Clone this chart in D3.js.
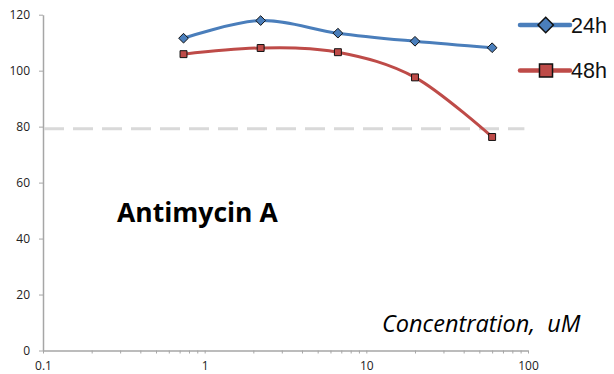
<!DOCTYPE html>
<html>
<head>
<meta charset="utf-8">
<script src="https://cdn.jsdelivr.net/npm/d3@7"></script>
<style>
  html, body { margin: 0; padding: 0; background: #fff; }
  svg { display: block; }
</style>
</head>
<body>
<script>
const width = 614, height = 374;

// data
const concentrations = [0.74, 2.22, 6.67, 20, 60];
const series24h = [111.6, 117.9, 113.4, 110.5, 108.2];
const series48h = [105.9, 108.1, 106.6, 97.6, 76.3];
const seriesNames = ["24h", "48h"];
const yTicks = [0, 20, 40, 60, 80, 100, 120];
const refLevel = 79.2;

const margin = {top: 14.7, right: 86, bottom: 23.5, left: 43};

const x = d3.scaleLog()
  .domain([0.1, 100])
  .range([margin.left, width - margin.right]);

const y = d3.scaleLinear()
  .domain([0, 120])
  .range([height - margin.bottom, margin.top]);

const svg = d3.select("body").append("svg")
  .attr("width", width)
  .attr("height", height);

// y axis
svg.append("g")
  .attr("transform", `translate(${margin.left},0)`)
  .call(d3.axisLeft(y).tickValues(yTicks).tickSize(4).tickPadding(9).tickSizeOuter(0))
  .call(g => g.select(".domain").attr("stroke", "#a6a6a6").attr("stroke-width", 1.5))
  .call(g => g.selectAll(".tick line").attr("stroke", "#a6a6a6"))
  .call(g => g.selectAll("text").style("font", "12px 'Open Sans'").attr("fill", "#222"));

// x axis, log with minor ticks
const isMajor = d => Math.abs(Math.log10(d) - Math.round(Math.log10(d))) < 1e-9;
svg.append("g")
  .attr("transform", `translate(0,${y(0)})`)
  .call(d3.axisBottom(x)
    .tickValues(x.ticks())
    .tickSize(3)
    .tickPadding(8)
    .tickSizeOuter(0)
    .tickFormat(d => isMajor(d) ? d3.format("~g")(d) : ""))
  .call(g => g.select(".domain").attr("stroke", "#a6a6a6").attr("stroke-width", 1.5))
  .call(g => g.selectAll(".tick line").attr("stroke", "#a6a6a6"))
  .call(g => g.selectAll("text").style("font", "12px 'Open Sans'").attr("fill", "#222"));

// dashed reference line
svg.append("line")
  .attr("x1", x(0.1) + 1)
  .attr("x2", x(95))
  .attr("y1", y(refLevel))
  .attr("y2", y(refLevel))
  .attr("stroke", "#d9d9d9")
  .attr("stroke-width", 3)
  .attr("stroke-dasharray", "20,9");

const line = d3.line()
  .x(d => x(d[0]))
  .y(d => y(d[1]))
  .curve(d3.curveCatmullRom.alpha(0));

const series = [
  {name: seriesNames[0], values: series24h, color: "#4a7ebb", marker: "diamond"},
  {name: seriesNames[1], values: series48h, color: "#be4b48", marker: "square"}
];

// draw 48h first so 24h sits on top
series.slice().reverse().forEach(s => {
  const pts = concentrations.map((c, i) => [c, s.values[i]]);
  svg.append("path")
    .datum(pts)
    .attr("fill", "none")
    .attr("stroke", s.color)
    .attr("stroke-width", 3)
    .attr("d", line);

  const sym = s.marker === "diamond"
    ? d3.symbol().type(d3.symbolDiamond2).size(60)
    : d3.symbol().type(d3.symbolSquare).size(48);

  svg.append("g")
    .selectAll("path")
    .data(pts)
    .enter().append("path")
      .attr("transform", d => `translate(${x(d[0])},${y(d[1])})`)
      .attr("d", sym)
      .attr("fill", s.color)
      .attr("stroke", "#111")
      .attr("stroke-width", 1);
});

// legend
const legend = svg.append("g");
series.forEach((s, i) => {
  const ly = 25 + i * 45.5;
  legend.append("line")
    .attr("x1", 520).attr("x2", 570)
    .attr("y1", ly).attr("y2", ly)
    .attr("stroke", s.color)
    .attr("stroke-width", 4.5)
    .attr("stroke-linecap", "round");
  const sym = s.marker === "diamond"
    ? d3.symbol().type(d3.symbolDiamond2).size(150)
    : d3.symbol().type(d3.symbolSquare).size(170);
  legend.append("path")
    .attr("transform", `translate(${s.marker === "diamond" ? 545.7 : 546},${ly})`)
    .attr("d", sym)
    .attr("fill", s.color)
    .attr("stroke", "#111")
    .attr("stroke-width", 1.5);
  legend.append("text")
    .attr("x", 571)
    .attr("y", ly + 7.5)
    .style("font", "21.5px 'Liberation Sans'")
    .attr("fill", "#111")
    .text(s.name);
});

// annotations
svg.append("text")
  .attr("x", 117)
  .attr("y", 221.5)
  .style("font", "bold 26.5px 'Open Sans'")
  .attr("fill", "#000")
  .text("Antimycin A");

svg.append("text")
  .attr("x", 382)
  .attr("y", 332)
  .style("font", "italic 23.5px 'Open Sans'")
  .attr("fill", "#000")
  .attr("xml:space", "preserve")
  .style("white-space", "pre")
  .text("Concentration,  uM");
</script>
</body>
</html>
